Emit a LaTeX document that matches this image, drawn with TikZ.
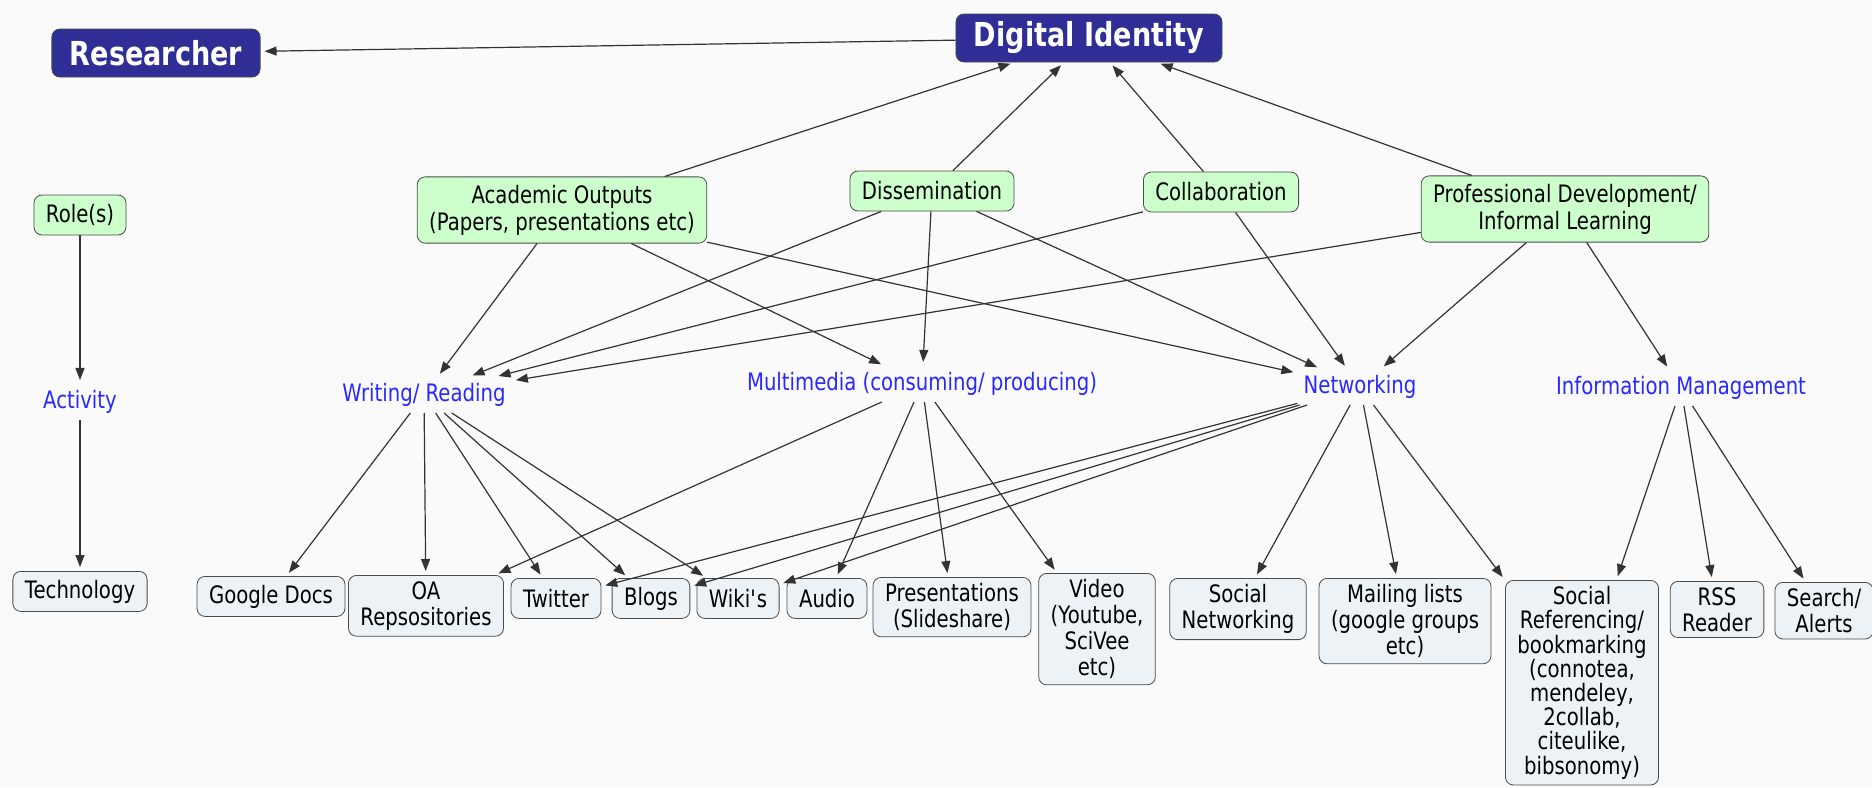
\documentclass[tikz,border=0pt]{standalone}
\usepackage{fontspec}
\setmainfont{DejaVu Sans}[FakeStretch=0.82]
\usetikzlibrary{arrows.meta}

\definecolor{idblue}{RGB}{46,46,150}
\definecolor{mintgreen}{RGB}{204,255,204}
\definecolor{toolgray}{RGB}{236,242,245}
\definecolor{labelblue}{RGB}{40,40,255}

\tikzset{
  head/.style={draw=black!70, fill=idblue, rounded corners=4pt, text=white,
    font=\fontsize{16.5}{20}\selectfont\bfseries, inner xsep=9pt, minimum height=24pt},
  area/.style={draw=black!70, fill=mintgreen, rounded corners=4pt, align=center,
    font=\fontsize{12}{13.5}\selectfont, inner xsep=6pt, inner ysep=4pt, minimum height=20pt},
  task/.style={text=labelblue, font=\fontsize{12}{14}\selectfont, inner sep=3pt},
  tool/.style={draw=black!70, fill=toolgray, rounded corners=4pt, align=center, anchor=north,
    font=\fontsize{12}{13}\selectfont, inner xsep=6pt, inner ysep=3pt, minimum height=20pt},
  link/.style={draw=black!80, line width=0.6pt, -{Triangle[length=6pt,width=4.5pt]}, shorten >=2pt}
}

\begin{document}
\begin{tikzpicture}[x=0.5pt, y=-0.5pt]

    \fill[black!2] (0,0) rectangle (1872,787);
    \useasboundingbox (0,0) rectangle (1872,787);

    % top
    \node[head] (digital) at (1089,38) {Digital Identity};
    \node[head] (researcher) at (156,53) {Researcher};

    % roles
    \node[area] (roles) at (80,215) {Role(s)};
    \node[area] (academic) at (562,210) {Academic Outputs\\(Papers, presentations etc)};
    \node[area] (dissem) at (932,191) {Dissemination};
    \node[area] (collab) at (1221,192) {Collaboration};
    \node[area] (profdev) at (1565,209) {Professional Development/\\Informal Learning};

    % activities
    \node[task] (activity) at (80,402) {Activity};
    \node[task] (writing) at (424,395) {Writing/ Reading};
    \node[task] (multimedia) at (922,384) {Multimedia (consuming/ producing)};
    \node[task] (networking) at (1360,387) {Networking};
    \node[task] (infomgmt) at (1681,388) {Information Management};

    % technologies
    \foreach \name/\x/\y/\txt in {tech/80/571/Technology, gdocs/271/576/Google Docs,
        oa/426/575/{OA\\Repsositories}, twitter/556/578/Twitter, blogs/651/578/Blogs,
        wikis/738/578/Wiki\textquotesingle s, audio/827/578/Audio, pres/952/577/{Presentations\\(Slideshare)},
        video/1097/573/{Video\\(Youtube,\\SciVee\\etc)}, socnet/1238/578/{Social\\Networking},
        mailing/1405/578/{Mailing lists\\(google groups\\etc)},
        rss/1717/581/{RSS\\Reader}, search/1824/582/{Search/\\Alerts}}
    \node[tool] (\name) at (\x,\y) {\txt};
    \node[tool, font=\fontsize{12}{12.1}\selectfont] (socref) at (1582,580)
        {Social\\Referencing/\\bookmarking\\(connotea,\\mendeley,\\2collab,\\citeulike,\\bibsonomy)};

    % links
    \foreach \a/\b in {digital/researcher, academic/digital, dissem/digital, collab/digital, profdev/digital,
        roles/activity, activity/tech,
        academic/writing, academic/multimedia, academic/networking,
        dissem/writing, dissem/multimedia, dissem/networking,
        collab/writing, collab/networking,
        profdev/writing, profdev/networking, profdev/infomgmt,
        writing/gdocs, writing/oa, writing/twitter, writing/blogs, writing/wikis,
        multimedia/oa, multimedia/audio, multimedia/pres, multimedia/video,
        networking/twitter, networking/blogs, networking/wikis,
        networking/socnet, networking/mailing, networking/socref,
        infomgmt/socref, infomgmt/rss, infomgmt/search}
    \draw[link] (\a) -- (\b);

\end{tikzpicture}
\end{document}
